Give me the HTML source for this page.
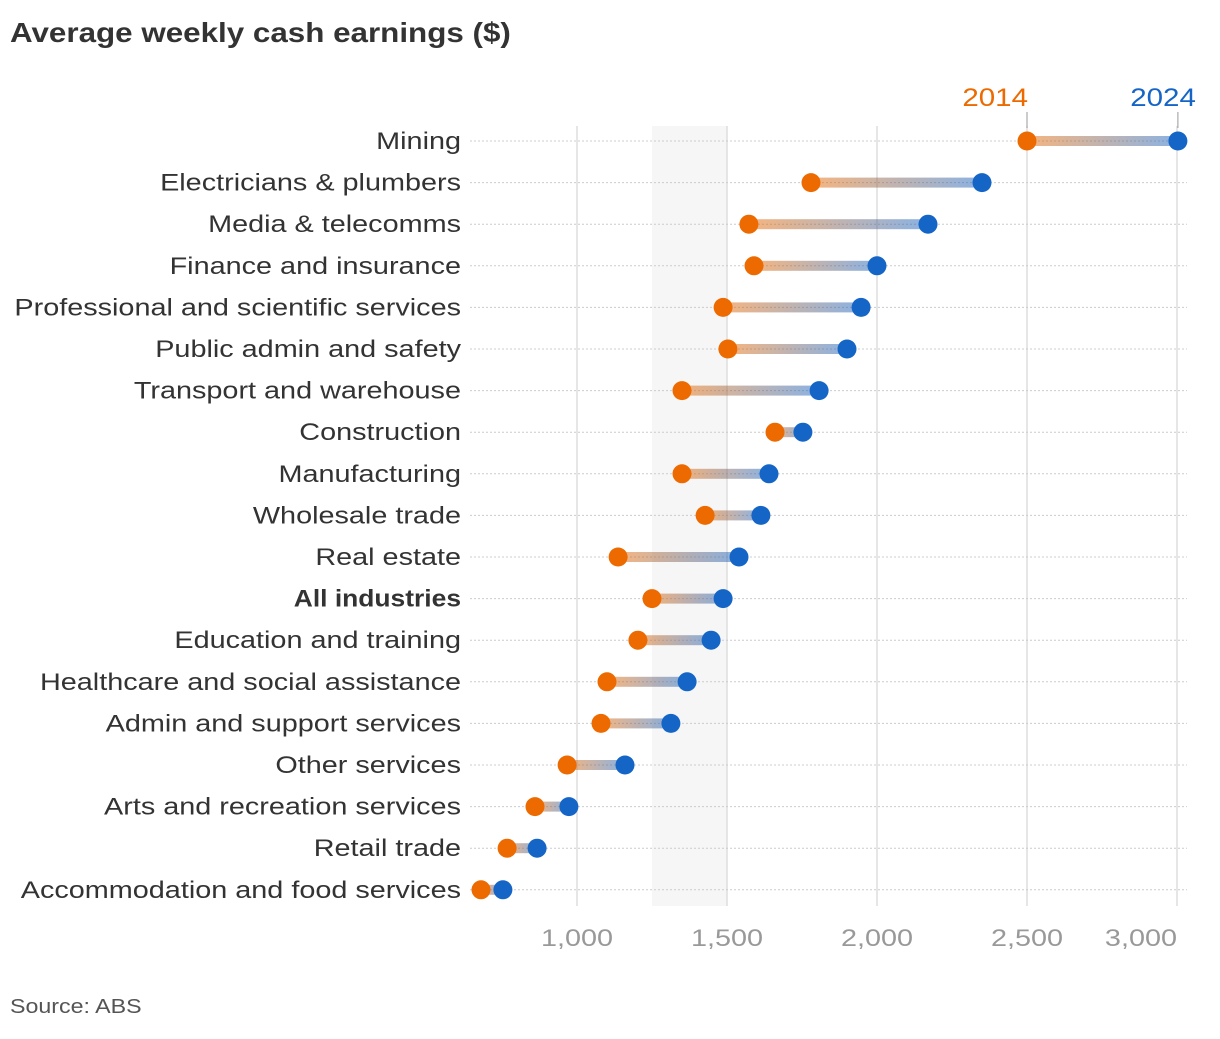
<!DOCTYPE html>
<html><head><meta charset="utf-8"><style>
body{margin:0;background:#fff;width:1220px;height:1034px;overflow:hidden;font-family:"Liberation Sans",sans-serif}
</style></head><body>
<svg id="chart" width="1220" height="1034" xmlns="http://www.w3.org/2000/svg">
<defs><linearGradient id="g" x1="0" x2="1" y1="0" y2="0"><stop offset="0" stop-color="#ec6a00" stop-opacity="0.5"/><stop offset="1" stop-color="#1565c7" stop-opacity="0.5"/></linearGradient></defs>
<text id="title" x="10" y="42" font-size="28" font-weight="bold" fill="#333">Average weekly cash earnings ($)</text>
<text id="src" x="10" y="1013" font-size="20" fill="#555">Source: ABS</text>
</svg>
<script>
const categories=["Mining","Electricians & plumbers","Media & telecomms","Finance and insurance","Professional and scientific services","Public admin and safety","Transport and warehouse","Construction","Manufacturing","Wholesale trade","Real estate","All industries","Education and training","Healthcare and social assistance","Admin and support services","Other services","Arts and recreation services","Retail trade","Accommodation and food services"];
const values2014=[2500,1780,1573,1590,1487,1503,1350,1660,1350,1427,1137,1250,1203,1100,1080,967,860,767,680];
const values2024=[3003,2350,2170,2000,1947,1900,1807,1753,1640,1613,1540,1487,1447,1367,1313,1160,973,867,753];
const ticks=[1000,1500,2000,2500,3000];
const band=[1250,1500];
const svg=document.getElementById('chart');const NS='http://www.w3.org/2000/svg';
const x=v=>577+(v-1000)*0.3;
const y=i=>141+i*41.6;
function mk(t,a,p){const e=document.createElementNS(NS,t);for(const k in a)e.setAttribute(k,a[k]);(p||svg).appendChild(e);return e;}
function widen(e,f){const w=e.getComputedTextLength();e.setAttribute('textLength',w*f);e.setAttribute('lengthAdjust','spacingAndGlyphs');}
widen(document.getElementById('title'),1.12);
widen(document.getElementById('src'),1.16);
const b=mk('rect',{x:x(band[0]),y:126,width:x(band[1])-x(band[0]),height:780,fill:'#f6f6f6'});


ticks.forEach((t,k)=>{const l=mk('line',{x1:x(t),x2:x(t),y1:126,y2:906,stroke:'#ddd','stroke-width':1.5});


const last=k===ticks.length-1;
const tx=mk('text',{x:last?x(t):x(t),y:946,'font-size':24,fill:'#999','text-anchor':last?'end':'middle'});tx.textContent=t.toLocaleString('en-US');


widen(tx,1.2);});
categories.forEach((c,i)=>{const yy=y(i);
const d=mk('line',{x1:470,x2:1187,y1:yy,y2:yy,stroke:'#ccc','stroke-width':1,'stroke-dasharray':'2,2'});


const lb=mk('text',{x:461,y:yy+8,'font-size':24,fill:'#333','text-anchor':'end','font-weight':c==='All industries'?'bold':'normal'});lb.textContent=c;


widen(lb,c==='All industries'?1.1:1.2);
const r=mk('rect',{x:x(values2014[i]),y:yy-5,width:x(values2024[i])-x(values2014[i]),height:10,fill:'url(#g)'});


const a=mk('circle',{cx:x(values2014[i]),cy:yy,r:9.5,fill:'#ec6a00'});


const z=mk('circle',{cx:x(values2024[i]),cy:yy,r:9.5,fill:'#1565c7'});

});
[[values2014[0],'2014','#ec6a00',1],[values2024[0],'2024','#1565c7',18]].forEach(([v,t,c,off])=>{
const l=mk('line',{x1:x(v),x2:x(v),y1:112,y2:128,stroke:'#999','stroke-width':1});


const tx=mk('text',{x:x(v)+off,y:106,'font-size':25,fill:c,'text-anchor':'end'});tx.textContent=t;


widen(tx,1.18);});
</script>
</body></html>
